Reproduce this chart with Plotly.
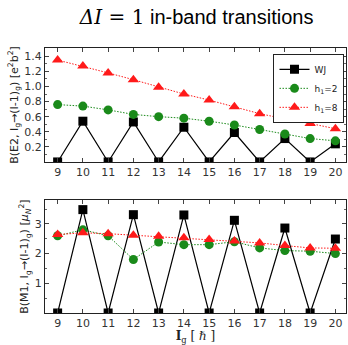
import plotly.graph_objects as go
from plotly.subplots import make_subplots

spins = [9, 10, 11, 12, 13, 14, 15, 16, 17, 18, 19, 20]

be2_wj = [0, 0.54, 0, 0.53, 0, 0.46, 0, 0.39, 0, 0.31, 0, 0.24]
be2_h2 = [0.76, 0.74, 0.69, 0.63, 0.60, 0.58, 0.54, 0.49, 0.43, 0.37, 0.31, 0.28]
be2_h8 = [1.35, 1.27, 1.18, 1.09, 0.99, 0.90, 0.82, 0.73, 0.64, 0.57, 0.51, 0.44]

bm1_wj = [0, 3.48, 0, 3.31, 0, 3.30, 0, 3.12, 0, 2.86, 0, 2.49]
bm1_h2 = [2.60, 2.80, 2.60, 1.80, 2.39, 2.30, 2.30, 2.40, 2.19, 2.10, 2.08, 2.00]
bm1_h8 = [2.64, 2.70, 2.67, 2.62, 2.58, 2.53, 2.47, 2.42, 2.36, 2.27, 2.19, 2.18]

series_names = ["WJ", "h<sub>1</sub>=2", "h<sub>1</sub>=8"]
e2_ticks = [0.2, 0.4, 0.6, 0.8, 1.0, 1.2, 1.4]
m1_ticks = [1, 2, 3]

fig = make_subplots(rows=2, cols=1, vertical_spacing=0.0)

styles = [
    dict(color="black", symbol="square", dash="solid", size=9),
    dict(color="#1a8a1a", symbol="circle", dash="1.5px,1.5px", size=9),
    dict(color="#ff1a1a", symbol="triangle-up", dash="1.5px,1.5px", size=10),
]

for row, data in [(1, [be2_wj, be2_h2, be2_h8]), (2, [bm1_wj, bm1_h2, bm1_h8])]:
    for i, (vals, st) in enumerate(zip(data, styles)):
        fig.add_trace(go.Scatter(
            x=spins, y=vals, mode="lines+markers", name=series_names[i],
            showlegend=(row == 1),
            line=dict(color=st["color"], dash=st["dash"], width=1.2 if i == 0 else 1),
            marker=dict(symbol=st["symbol"], size=st["size"], color=st["color"]),
        ), row=row, col=1)

tickfont = dict(family="DejaVu Sans", size=11, color="#333")
axcommon = dict(showgrid=False, zeroline=False, showline=True, linecolor="#222",
                linewidth=1.2, mirror="allticks", ticks="inside", ticklen=4,
                tickcolor="#444", tickfont=tickfont, automargin=False)

fig.update_xaxes(**axcommon, range=[8.5, 20.42], tickvals=spins)
fig.update_yaxes(**axcommon)
fig.update_yaxes(range=[0, 1.51], tickvals=e2_ticks, ticktext=[f"{t:.1f}" for t in e2_ticks],
                 minor=dict(ticks="inside", ticklen=2, dtick=0.1, tickcolor="#666"),
                 title=dict(text="B(E2, I<sub>g</sub>→(I-1)<sub>g</sub>) [e<sup>2</sup>b<sup>2</sup>]",
                            font=dict(family="DejaVu Sans", size=11, color="#222"), standoff=3),
                 row=1, col=1)
fig.update_yaxes(range=[0, 3.8], tickvals=m1_ticks,
                 minor=dict(ticks="inside", ticklen=2, dtick=0.5, tickcolor="#666"),
                 title=dict(text="B(M1, I<sub>g</sub>→(I-1)<sub>g</sub>) [<i>μ<sub>N</sub></i><sup>2</sup>]",
                            font=dict(family="DejaVu Sans", size=11, color="#222"), standoff=3),
                 row=2, col=1)
fig.update_xaxes(title=dict(text="<b>I</b><sub>g</sub> [ <i>ℏ</i> ]",
                            font=dict(family="DejaVu Serif", size=12, color="#222"), standoff=5),
                 row=2, col=1)

fig.update_layout(
    width=348, height=345,
    margin=dict(l=45, r=2, t=48, b=32),
    paper_bgcolor="white", plot_bgcolor="white",
    yaxis=dict(domain=[0.570, 1.0]),
    yaxis2=dict(domain=[0.0, 0.426]),
    title=dict(text="<span style='font-family:DejaVu Serif'><i>ΔI</i> = 1</span> in-band transitions",
               x=0.565, xanchor="center", y=0.95, yanchor="middle",
               font=dict(family="Liberation Sans", size=20, color="black")),
    legend=dict(x=0.995, y=0.978, xanchor="right", yanchor="top",
                bgcolor="white", bordercolor="#222", borderwidth=1,
                font=dict(family="DejaVu Sans", size=9, color="#222"),
                itemwidth=30, tracegroupgap=0),
)

fig.write_html("out.html", config={"displayModeBar": False},
               post_script="document.body.style.margin='0';document.body.style.overflow='hidden';")
